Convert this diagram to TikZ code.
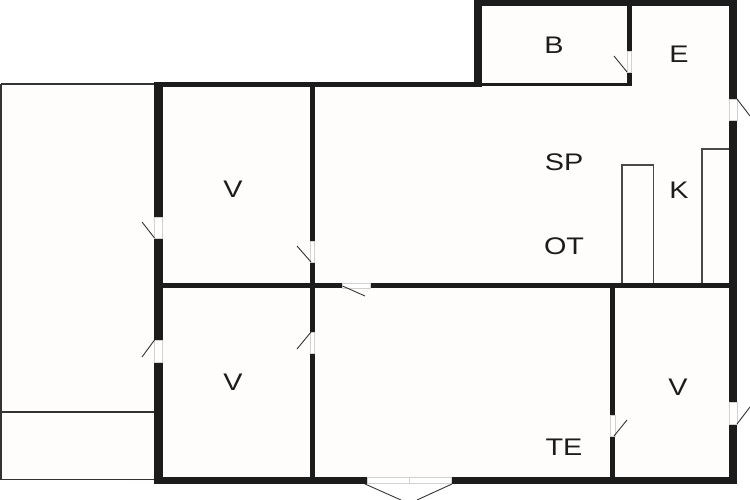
\documentclass[tikz,border=0pt]{standalone}
\usepackage{fontspec}
\setmainfont[FakeStretch=1.2]{Liberation Sans}
\definecolor{wallc}{HTML}{1C1C1C}
\definecolor{floorc}{HTML}{FEFDFC}
\tikzset{
  wall/.style={fill=wallc,draw=none},
  opening/.style={fill=white,draw=black!18,line width=0.5pt},
  leaf/.style={draw=wallc!90,line width=0.9pt},
  thinline/.style={draw=wallc!90,line width=1.5pt},
  counter/.style={draw=wallc!80,line width=1.2pt},
  sill/.style={draw=black!18,line width=0.5pt},
  label/.style={font=\fontsize{24}{24}\selectfont,text=wallc,inner sep=0pt}
}
\begin{document}
\begin{tikzpicture}[x=1pt,y=-1pt]
\useasboundingbox (0,0) rectangle (750,500);
\fill[white] (0,0) rectangle (750,500);
% floor
\fill[floorc] (1,84) -- (474,84) -- (474,0) -- (737,0) -- (737,483) -- (1,480) -- cycle;
% balcony
\draw[thinline] (1,84) -- (154,84);
\draw[thinline] (1,84) -- (1,479.5) -- (154,479.5);
\draw[thinline] (1,412) -- (154,412);
% counters
\draw[counter] (622,284) -- (622,165) -- (653.5,165) -- (653.5,284);
\draw[counter] (702,284) -- (702,149) -- (729,149);
% outer left wall
\fill[wall] (154,82) rectangle (162.5,217);
\fill[wall] (154,238) rectangle (162.5,340);
\fill[wall] (154,362) rectangle (162.5,483);
% top of main
\fill[wall] (154,82) rectangle (482,87);
% B block
\fill[wall] (474,0) rectangle (482,87);
\fill[wall] (474,0) rectangle (737,6);
\fill[wall] (474,83) rectangle (631.5,86.5);
\fill[wall] (627,0) rectangle (631.5,51);
\fill[wall] (627,72) rectangle (631.5,86.5);
% right wall
\fill[wall] (729,0) rectangle (737,99);
\fill[wall] (729,120) rectangle (737,402);
\fill[wall] (729,424) rectangle (737,483);
% bottom wall
\fill[wall] (154,477) rectangle (367,483.5);
\fill[wall] (451,477) rectangle (737,483.5);
% central partitions
\fill[wall] (162,283) rectangle (342.5,288);
\fill[wall] (370,283) rectangle (729,288);
\fill[wall] (310,85) rectangle (314.5,241);
\fill[wall] (310,262) rectangle (314.5,332);
\fill[wall] (310,353) rectangle (314.5,480);
\fill[wall] (610,288) rectangle (615,415);
\fill[wall] (610,436) rectangle (615,480);
% door openings
\draw[opening] (154,217) rectangle (162.5,238);
\draw[opening] (154,340) rectangle (162.5,362);
\draw[opening] (729,99) rectangle (737,120);
\draw[opening] (729,402) rectangle (737,424);
\draw[opening] (310,241) rectangle (314.5,262);
\draw[opening] (310,332) rectangle (314.5,353);
\draw[opening] (610,415) rectangle (615,436);
\draw[opening] (627,51) rectangle (631.5,72);
\draw[opening] (342.5,283) rectangle (370,288);
\draw[opening] (367,477) rectangle (451,483.5);
\draw[sill] (409,477) -- (409,483.5);
% door leaves
\draw[leaf] (154.5,238) -- (142,222);
\draw[leaf] (154.5,340) -- (142,357);
\draw[leaf] (311,262) -- (297,246);
\draw[leaf] (311,332) -- (297,349);
\draw[leaf] (342.5,286) -- (365,296);
\draw[leaf] (627,72) -- (614,56);
\draw[leaf] (737,99) -- (750,116);
\draw[leaf] (737,424) -- (750,407);
\draw[leaf] (614,436) -- (627,420);
\draw[leaf] (365,484) -- (401,500);
\draw[leaf] (452,484) -- (417,500);
% labels
\node[label] (v1) at (233,189) {V};
\node[label] (v2) at (233,382) {V};
\node[label] (v3) at (678,387) {V};
\node[label] (b) at (554,45) {B};
\node[label] (e) at (679,54) {E};
\node[label] (sp) at (564,162) {SP};
\node[label] (ot) at (564,246) {OT};
\node[label] (k) at (679,190) {K};
\node[label] (te) at (564,447) {TE};
\end{tikzpicture}
\end{document}
